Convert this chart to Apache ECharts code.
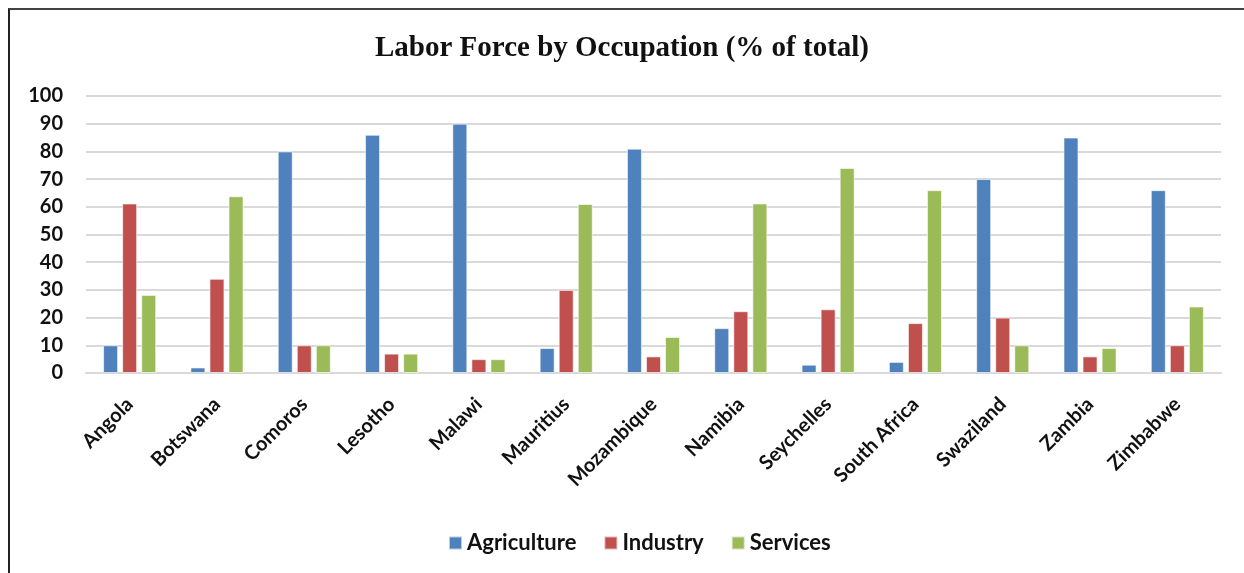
<!DOCTYPE html>
<html>
<head>
<meta charset="utf-8">
<script src="https://cdn.jsdelivr.net/npm/echarts@6/dist/echarts.min.js"></script>
<style>
  html, body { margin: 0; padding: 0; background: #fff; }
  #frame { position: absolute; left: 8px; top: 8px; width: 1236px; height: 565px;
           border-left: 2px solid #222; border-top: 2px solid #444; box-sizing: border-box; }
  #main { position: absolute; left: 0; top: 0; width: 1244px; height: 573px; }
</style>
</head>
<body>
<div id="frame"></div>
<div id="main"></div>
<script>
  var countries = ['Angola', 'Botswana', 'Comoros', 'Lesotho', 'Malawi', 'Mauritius', 'Mozambique',
                   'Namibia', 'Seychelles', 'South Africa', 'Swaziland', 'Zambia', 'Zimbabwe'];
  var agriculture = [10, 2, 80, 86, 90, 9, 81, 16.2, 3, 4, 70, 85, 66];
  var industry    = [61.2, 34, 10, 7, 5, 30, 6, 22.3, 23, 18, 20, 6, 10];
  var services    = [28.2, 63.8, 10, 7, 5, 61, 13, 61.2, 74, 66, 10, 9, 24];
  var yTicks = [0, 100, 10];   // min, max, step

  var myChart = echarts.init(document.getElementById('main'));

  function barSeries(name, data, color) {
    return {
      name: name,
      type: 'bar',
      data: data,
      barWidth: 15,
      barGap: '27%',
      itemStyle: {
        color: color,
        borderColor: 'rgba(255,255,255,0.6)',
        borderWidth: 1
      }
    };
  }

  var option = {
    animation: false,
    backgroundColor: 'transparent',
    title: {
      text: 'Labor Force by Occupation (% of total)',
      left: 'center',
      top: 29,
      textStyle: {
        fontFamily: 'Liberation Serif',
        fontWeight: 'bold',
        fontSize: 29,
        color: '#111'
      }
    },
    legend: {
      bottom: 14,
      left: 443,
      itemWidth: 13,
      itemHeight: 13,
      itemGap: 27,
      icon: 'rect',
      textStyle: {
        fontFamily: 'Lato',
        fontWeight: 'bold',
        fontSize: 22,
        color: '#111'
      },
      data: ['Agriculture', 'Industry', 'Services']
    },
    grid: {
      left: 86,
      right: 23,
      top: 96,
      bottom: 200,
      containLabel: false
    },
    xAxis: {
      type: 'category',
      data: countries,
      axisTick: { show: false },
      axisLine: { lineStyle: { color: '#d9d9d9', width: 2 } },
      axisLabel: {
        rotate: 45,
        interval: 0,
        margin: 28,
        fontFamily: 'Lato',
        fontWeight: 'bold',
        fontSize: 20,
        color: '#111'
      }
    },
    yAxis: {
      type: 'value',
      min: yTicks[0],
      max: yTicks[1],
      interval: yTicks[2],
      axisLine: { show: false },
      axisTick: { show: false },
      splitLine: { lineStyle: { color: '#d9d9d9', width: 2 } },
      axisLabel: {
        margin: 23,
        fontFamily: 'Lato',
        fontWeight: 'bold',
        fontSize: 20,
        color: '#111'
      }
    },
    series: [
      barSeries('Agriculture', agriculture, '#4F81BD'),
      barSeries('Industry', industry, '#C0504D'),
      barSeries('Services', services, '#9BBB59')
    ]
  };

  myChart.setOption(option);
</script>
</body>
</html>
